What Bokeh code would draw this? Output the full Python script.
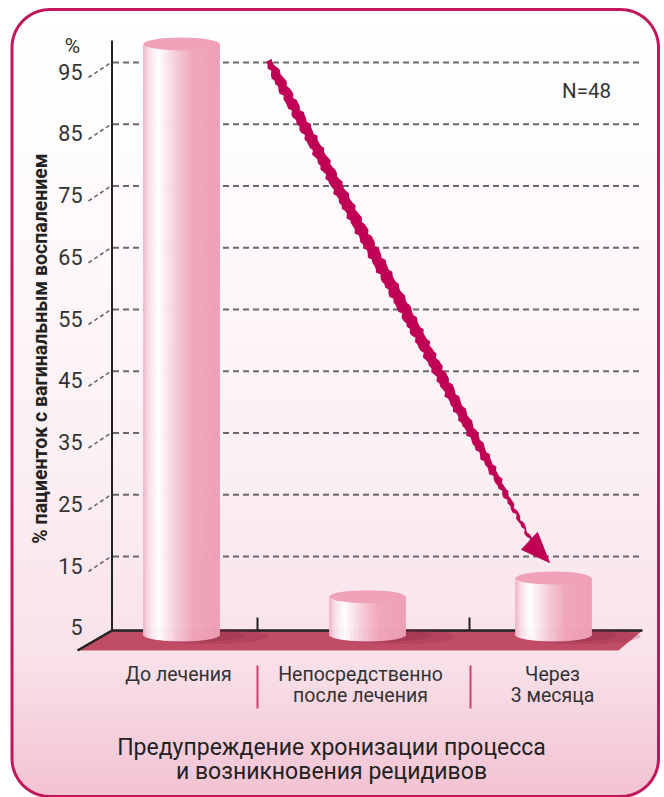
import numpy as np
from bokeh.plotting import figure
from bokeh.models import Range1d
from bokeh.core.properties import value
from bokeh.embed import file_html
from bokeh.resources import INLINE

# ---------------- data ----------------
categories = [["До лечения"], ["Непосредственно", "после лечения"], ["Через", "3 месяца"]]
percent = [98.0, 8.5, 11.5]
y_ticks = [5, 15, 25, 35, 45, 55, 65, 75, 85, 95]
y_title = "% пациенток с вагинальным воспалением"
unit_label = "%"
n_label = "N=48"
footer = ["Предупреждение хронизации процесса", "и возникновения рецидивов"]

# ---------------- layout (page pixels) ----------------
W, H = 664, 797
OFF = 0
X0, DXC = 181.0, 186.0       # page x of category 0, px per category
Y95, PPU = 62.0, 6.175       # page y of value 95, px per percent
FONT = "Roboto"


def xd(px):
    return (px - X0) / DXC


def yd(py):
    return 95.0 - (py - Y95) / PPU


def hexc(c):
    c = c.lstrip("#")
    return np.array([int(c[i:i + 2], 16) for i in (0, 2, 4)], dtype=float)


def interp_color(stops, f):
    for (f0, c0), (f1, c1) in zip(stops[:-1], stops[1:]):
        if f <= f1:
            t = 0 if f1 == f0 else (f - f0) / (f1 - f0)
            t = min(max(t, 0), 1)
            c = hexc(c0) * (1 - t) + hexc(c1) * t
            return "#%02x%02x%02x" % tuple(int(round(v)) for v in c)
    return stops[-1][1]


p = figure(width=W, height=H, x_range=Range1d(xd(OFF), xd(OFF + W)),
           y_range=Range1d(yd(OFF + H), yd(OFF)),
           x_axis_type=None, y_axis_type=None, output_backend="svg",
           toolbar_location=None, min_border=0, outline_line_color=None,
           background_fill_color="white", border_fill_color="white")
p.grid.visible = False

# ---------------- background panel with gradient ----------------
L, R, T, B, RAD = 11.5, 658.0, 9.0, 796.0, 38.0
bg_stops = [(0.0, "#ffffff"), (0.2, "#fefbfc"), (0.55, "#fcf1f5"), (0.82, "#f9e2ea"), (1.0, "#f3c2d2")]
lefts, rights, tops, bottoms, cols = [], [], [], [], []
step = 3.0
yy = T
while yy < B:
    yc = yy + step / 2
    inset = 0.0
    if yc < T + RAD:
        d = T + RAD - yc
        inset = RAD - np.sqrt(max(RAD ** 2 - d ** 2, 0))
    elif yc > B - RAD:
        d = yc - (B - RAD)
        inset = RAD - np.sqrt(max(RAD ** 2 - d ** 2, 0))
    lefts.append(xd(L + inset)); rights.append(xd(R - inset))
    tops.append(yd(yy)); bottoms.append(yd(yy + step + 0.6))
    cols.append(interp_color(bg_stops, (yc - T) / (B - T)))
    yy += step
p.quad(left=lefts, right=rights, top=tops, bottom=bottoms, fill_color=cols, line_color=None)

# border path
pts = []
for cx, cy, a0, a1 in [(R - RAD, T + RAD, -90, 0), (R - RAD, B - RAD, 0, 90),
                       (L + RAD, B - RAD, 90, 180), (L + RAD, T + RAD, 180, 270)]:
    for a in np.linspace(np.radians(a0), np.radians(a1), 20):
        pts.append((cx + RAD * np.cos(a), cy + RAD * np.sin(a)))
pts.append(pts[0])
p.line([xd(a) for a, b in pts], [yd(b) for a, b in pts], line_color="#c2185b", line_width=3)

# ---------------- floor ----------------
AX_X, FLOOR_BACK, FLOOR_FRONT = 111.5, 630.0, 650.0
FLOOR_R, FLOOR_FR, FLOOR_FL = 642.0, 618.0, 77.0
p.patch([xd(AX_X), xd(FLOOR_R), xd(FLOOR_FR), xd(FLOOR_FL)],
        [yd(FLOOR_BACK), yd(FLOOR_BACK), yd(FLOOR_FRONT), yd(FLOOR_FRONT)],
        fill_color="#c04c66", line_color=None)

# ---------------- grid lines and tick labels ----------------
for t in y_ticks[1:]:
    p.line([xd(AX_X + 1), xd(FLOOR_R)], [t, t], line_color="#6a6a6a", line_width=2, line_dash="6 4")
    p.line([xd(88), xd(AX_X - 1)], [t - 15 / PPU, t], line_color="#6a6a6a", line_width=1.6, line_dash="4 3")
p.text(x=[xd(82)] * len(y_ticks), y=[t - 9 / PPU for t in y_ticks], text=[str(t) for t in y_ticks],
       text_font=value(FONT), text_font_size="21.5px", text_color="#333333",
       text_align="right", text_baseline="middle")
p.text(x=[xd(72)], y=[yd(45)], text=[unit_label], text_font=value(FONT), text_font_size="21px",
       text_color="#333333", text_align="center", text_baseline="middle")

# axis lines
p.line([xd(AX_X), xd(AX_X)], [yd(40), yd(FLOOR_BACK)], line_color="#222222", line_width=2)
p.line([xd(AX_X), xd(FLOOR_R)], [yd(FLOOR_BACK), yd(FLOOR_BACK)], line_color="#222222", line_width=2.5)
p.line([xd(AX_X), xd(FLOOR_FL)], [yd(FLOOR_BACK), yd(FLOOR_FRONT)], line_color="#222222", line_width=2.5)
for sx in (257, 469):
    p.line([xd(sx), xd(sx)], [yd(617), yd(FLOOR_BACK)], line_color="#222222", line_width=2)

# ---------------- cylinders ----------------
A_PX, B_PX, BASE_PY = 38.0, 6.5, 634.0
cyl_stops = [(0.0, "#f0b2c4"), (0.07, "#f9dde6"), (0.2, "#ffffff"), (0.45, "#f6c9d6"),
             (0.66, "#f0a6bb"), (1.0, "#ee9fb5")]
for i, v in enumerate(percent):
    # shadow on the floor
    p.ellipse(x=[i + 28 / DXC], y=[yd(BASE_PY + 2)], width=[118 / DXC], height=[15 / PPU],
              fill_color="#8f2a47", fill_alpha=0.25, line_color=None)
    p.ellipse(x=[i + 18 / DXC], y=[yd(BASE_PY + 1)], width=[92 / DXC], height=[12 / PPU],
              fill_color="#8f2a47", fill_alpha=0.3, line_color=None)
    n = 48
    edges = np.linspace(-A_PX, A_PX, n + 1)
    ls, rs, ts, bs, cs = [], [], [], [], []
    for j in range(n):
        xc = (edges[j] + edges[j + 1]) / 2
        f = (xc + A_PX) / (2 * A_PX)
        ls.append(i + edges[j] / DXC); rs.append(i + edges[j + 1] / DXC)
        ts.append(v)
        bs.append(yd(BASE_PY + B_PX * np.sqrt(max(1 - (xc / A_PX) ** 2, 0))))
        cs.append(interp_color(cyl_stops, f))
    p.quad(left=ls, right=rs, top=ts, bottom=bs, fill_color=cs, line_color=cs, line_width=0.8)
    p.ellipse(x=[i], y=[v], width=[2 * A_PX / DXC], height=[2 * B_PX / PPU],
              fill_color="#f0a3b8", line_color=None)

# ---------------- arrow (rough brush stroke) ----------------
P0 = np.array([268.0, 60.0]); P1 = np.array([531.0, 541.0])
u = (P1 - P0) / np.linalg.norm(P1 - P0); nrm = np.array([-u[1], u[0]])
ts_ = np.linspace(0, 1, 160)
prof_t = [0, 0.03, 0.2, 0.5, 0.75, 0.86, 0.93, 1.0]
prof_w = [5, 10, 11, 12, 10, 7, 4, 2.5]
wd = np.interp(ts_, prof_t, prof_w)
wig_a = 1.1 * np.sin(ts_ * 611) + 0.7 * np.sin(ts_ * 1237)
wig_b = 1.0 * np.sin(ts_ * 733 + 1.3) + 0.6 * np.sin(ts_ * 1511)
left_pts = [P0 + t * (P1 - P0) + nrm * (w / 2 + g) for t, w, g in zip(ts_, wd, wig_a)]
right_pts = [P0 + t * (P1 - P0) - nrm * (w / 2 + g) for t, w, g in zip(ts_, wd, wig_b)]
poly = left_pts + right_pts[::-1]
p.patch([xd(a) for a, b in poly], [yd(b) for a, b in poly], fill_color="#bf0054", line_color=None)
head = [(521, 549), (537, 532), (549, 562)]
p.patch([xd(a) for a, b in head], [yd(b) for a, b in head], fill_color="#bf0054", line_color="#bf0054",
        line_width=1)

# ---------------- texts ----------------
p.text(x=[xd(586)], y=[yd(90)], text=[n_label], text_font=value(FONT), text_font_size="20.5px",
       text_color="#333333", text_align="center", text_baseline="middle")
p.text(x=[xd(40)], y=[yd(348)], text=[y_title], angle=np.pi / 2, text_font=value(FONT),
       text_font_size="19.5px", text_font_style="bold", text_color="#222222",
       text_align="center", text_baseline="middle")

label_x = [178, 360, 552]
for lx, lines in zip(label_x, categories):
    for k, line in enumerate(lines):
        p.text(x=[xd(lx)], y=[yd(674 + 21 * k)], text=[line], text_font=value(FONT),
               text_font_size="19.5px", text_color="#333333", text_align="center", text_baseline="middle")
for sx in (257, 470):
    p.line([xd(sx), xd(sx)], [yd(665), yd(708)], line_color="#d0406a", line_width=2)

for k, line in enumerate(footer):
    p.text(x=[xd(331)], y=[yd(747 + 24 * k)], text=[line], text_font=value(FONT),
           text_font_size="23px", text_color="#222222", text_align="center", text_baseline="middle")

open("out.html", "w").write(file_html(p, INLINE))
